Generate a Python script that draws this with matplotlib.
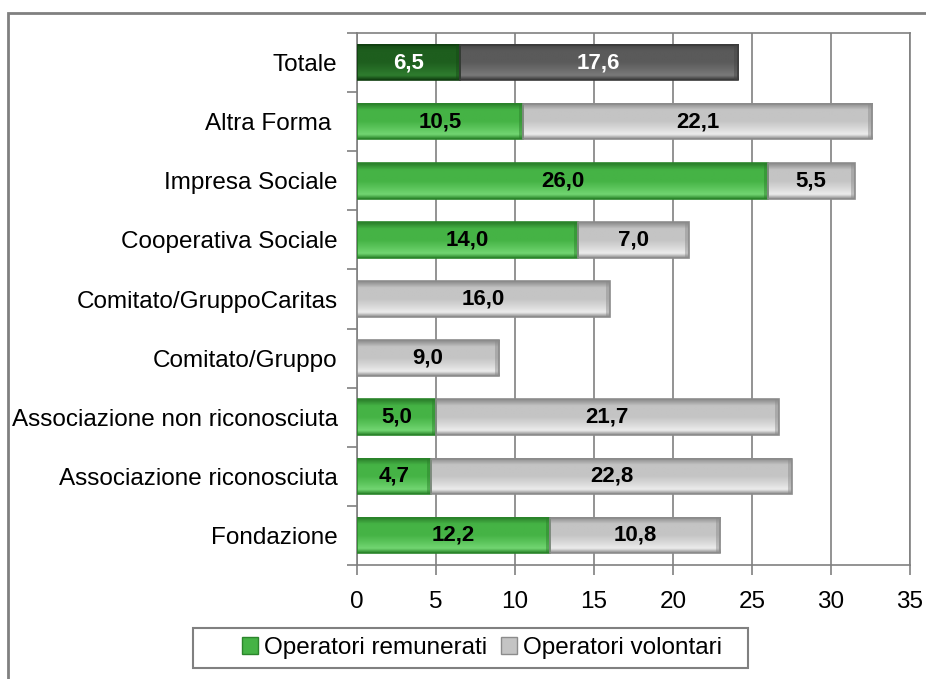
import matplotlib
matplotlib.use("Agg")
import matplotlib.pyplot as plt
import numpy as np
from matplotlib.patches import Rectangle, Patch
from matplotlib.colors import to_rgb

plt.rcParams['font.family'] = ['Liberation Sans', 'DejaVu Sans']

# data, top to bottom as in the chart
categorie = ['Totale', 'Altra Forma ', 'Impresa Sociale', 'Cooperativa Sociale',
             'Comitato/GruppoCaritas', 'Comitato/Gruppo',
             'Associazione non riconosciuta', 'Associazione riconosciuta', 'Fondazione']
remunerati = [6.5, 10.5, 26.0, 14.0, 0.0, 0.0, 5.0, 4.7, 12.2]
volontari = [17.6, 22.1, 5.5, 7.0, 16.0, 9.0, 21.7, 22.8, 10.8]

# (edge, highlight, body, bottom) colours for the bevelled bars
green = ('#2b852b', '#72d672', '#45b345', '#2a7d2a')
gray = ('#8c8c8c', '#ececec', '#c4c4c4', '#8a8a8a')
dkgreen = ('#103f10', '#2f7d2f', '#1e5e1e', '#154a15')
dkgray = ('#3a3a3a', '#7a7a7a', '#5a5a5a', '#454545')

fig = plt.figure(figsize=(9.26, 6.79), dpi=100)
ax = fig.add_axes([357 / 926, 1 - 565 / 679, (910 - 357) / 926, (565 - 33) / 679])

# outer frame of the chart area
fig.patches.append(Rectangle((8 / 926, -0.1), 1.2, 1 - 13 / 679 + 0.1,
                             transform=fig.transFigure, fill=False,
                             edgecolor='#808080', linewidth=2, zorder=0))

n = len(categorie)
y = np.arange(n)[::-1]
h = 0.6


def gradient(cols):
    e, hi, b, bot = [np.array(to_rgb(c)) for c in cols]
    stops = [(0.0, e), (0.12, hi), (0.3, hi * 0.5 + b * 0.5), (0.5, b), (0.82, b), (1.0, bot)]
    t = np.linspace(0, 1, 40)
    img = np.zeros((40, 1, 3))
    for k in range(3):
        img[:, 0, k] = np.interp(t, [s[0] for s in stops], [s[1][k] for s in stops])
    return img


def bevel_bar(yy, left, width, cols):
    if width <= 0:
        return
    ax.imshow(gradient(cols), extent=(left, left + width, yy + h / 2, yy - h / 2),
              aspect='auto', interpolation='bilinear', zorder=3)
    ax.add_patch(Rectangle((left, yy - h / 2), width, h, fill=False,
                           edgecolor=cols[0], linewidth=1.2, zorder=4))
    # darker end caps
    cap = 0.25
    ax.add_patch(Rectangle((left + width - cap, yy - h / 2), cap, h,
                           color=cols[3], alpha=0.45, linewidth=0, zorder=4))


for i in range(n):
    r = remunerati[i]
    v = volontari[i]
    if i == 0:
        cg, cv, tc = dkgreen, dkgray, 'white'
    else:
        cg, cv, tc = green, gray, 'black'
    bevel_bar(y[i], 0, r, cg)
    bevel_bar(y[i], r, v, cv)
    if r > 0:
        ax.text(r / 2, y[i], ('%.1f' % r).replace('.', ','), ha='center', va='center',
                fontsize=16, fontweight='bold', color=tc, zorder=5)
    ax.text(r + v / 2, y[i], ('%.1f' % v).replace('.', ','), ha='center', va='center',
            fontsize=16, fontweight='bold', color=tc, zorder=5)

ax.set_xlim(0, 35)
ax.set_ylim(-0.5, n - 0.5)
ax.set_xticks(np.arange(0, 36, 5))
ax.set_xticklabels([str(t) for t in range(0, 36, 5)], fontsize=17.5)
ax.set_yticks(y)
ax.set_yticklabels(categorie, fontsize=17.5)
ax.set_yticks(np.arange(-0.5, n, 1), minor=True)
ax.tick_params(axis='y', which='major', length=0, pad=14)
ax.tick_params(axis='y', which='minor', length=7, color='#808080', width=1.2)
ax.tick_params(axis='x', length=7, color='#808080', width=1.2, pad=12)
ax.grid(axis='x', color='#808080', linewidth=1.2, zorder=0)
ax.set_axisbelow(True)
for s in ax.spines.values():
    s.set_color('#808080')
    s.set_linewidth(1.2)

# legend (frame drawn separately so its size matches the original box)
fig.patches.append(Rectangle((193 / 926, 1 - 668 / 679), 555 / 926, 40 / 679,
                             transform=fig.transFigure, fill=False,
                             edgecolor='#808080', linewidth=1.5))
handles = [Patch(facecolor=green[2], edgecolor=green[0]), Patch(facecolor=gray[2], edgecolor=gray[0])]
leg = fig.legend(handles, ['Operatori remunerati', 'Operatori volontari'], loc='center',
                 bbox_to_anchor=(482 / 926, 1 - 648 / 679), ncol=2, fontsize=17.5,
                 frameon=False, handlelength=0.65, handleheight=0.65,
                 handletextpad=0.25, columnspacing=0.6)

fig.savefig('out.png', dpi=100)
